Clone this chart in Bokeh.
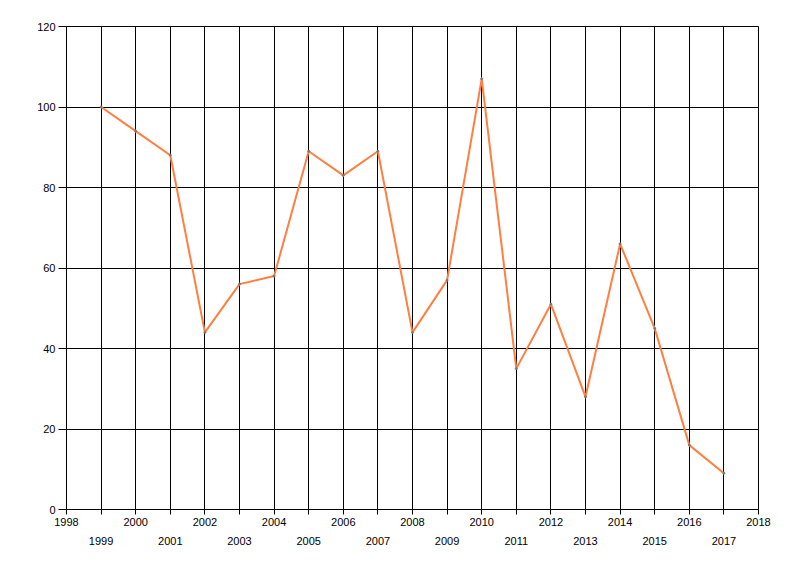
from bokeh.plotting import figure
from bokeh.models import LinearAxis, FixedTicker, Range1d
from bokeh.embed import file_html
from bokeh.resources import INLINE

years = [1999, 2000, 2001, 2002, 2003, 2004, 2005, 2006, 2007, 2008,
         2009, 2010, 2011, 2012, 2013, 2014, 2015, 2016, 2017]
values = [100, 94, 88, 44, 56, 58, 89, 83, 89, 44,
          57, 107, 35, 51, 28, 66, 45, 16, 9]
all_ticks = list(range(1998, 2019))
even_ticks = [y for y in all_ticks if y % 2 == 0]
odd_ticks = [y for y in all_ticks if y % 2 == 1]
y_ticks = [0, 20, 40, 60, 80, 100, 120]

FONT = "Liberation Sans"

p = figure(width=792, height=568, output_backend="svg", toolbar_location=None,
           x_range=Range1d(1998, 2018), y_range=Range1d(0, 120),
           x_axis_location=None, y_axis_location="left",
           min_border_left=66, min_border_right=34, min_border_top=26, min_border_bottom=59)
p.background_fill_color = "white"
p.border_fill_color = "white"
p.outline_line_color = "black"
p.outline_line_width = 1

# y axis
ya = p.yaxis[0]
ya.ticker = FixedTicker(ticks=y_ticks)
ya.minor_tick_line_color = None
ya.major_tick_out = 8
ya.major_tick_in = 0
ya.major_label_standoff = 3
ya.axis_line_color = "black"
ya.major_tick_line_color = "black"
ya.major_label_text_font = FONT
ya.major_label_text_font_size = "11px"
ya.major_label_text_color = "black"

# x axis (even labels)
xa = LinearAxis(ticker=FixedTicker(ticks=all_ticks))
xa.major_label_overrides = {y: (str(y) if y % 2 == 0 else "") for y in all_ticks}
xa.minor_tick_line_color = None
xa.major_tick_out = 5
xa.major_tick_in = 0
xa.major_label_standoff = 3
xa.axis_line_color = "black"
xa.major_tick_line_color = "black"
xa.major_label_text_font = FONT
xa.major_label_text_font_size = "11px"
xa.major_label_text_color = "black"
p.add_layout(xa, "below")

# x axis (odd labels, second row)
xb = LinearAxis(ticker=FixedTicker(ticks=odd_ticks))
xb.minor_tick_line_color = None
xb.major_tick_line_color = None
xb.major_tick_out = 0
xb.major_tick_in = 0
xb.axis_line_color = None
xb.major_label_standoff = 8
xb.major_label_text_font = FONT
xb.major_label_text_font_size = "11px"
xb.major_label_text_color = "black"
p.add_layout(xb, "below")

p.xgrid.ticker = FixedTicker(ticks=all_ticks)
p.ygrid.ticker = FixedTicker(ticks=y_ticks)
for g in (p.xgrid[0], p.ygrid[0]):
    g.grid_line_color = "black"
    g.grid_line_width = 1
    g.grid_line_alpha = 1.0

p.line(years, values, line_color="#ff7f40", line_width=2)
p.scatter(years, values, size=2, color="#777777")

open("out.html", "w").write(file_html(p, INLINE))
